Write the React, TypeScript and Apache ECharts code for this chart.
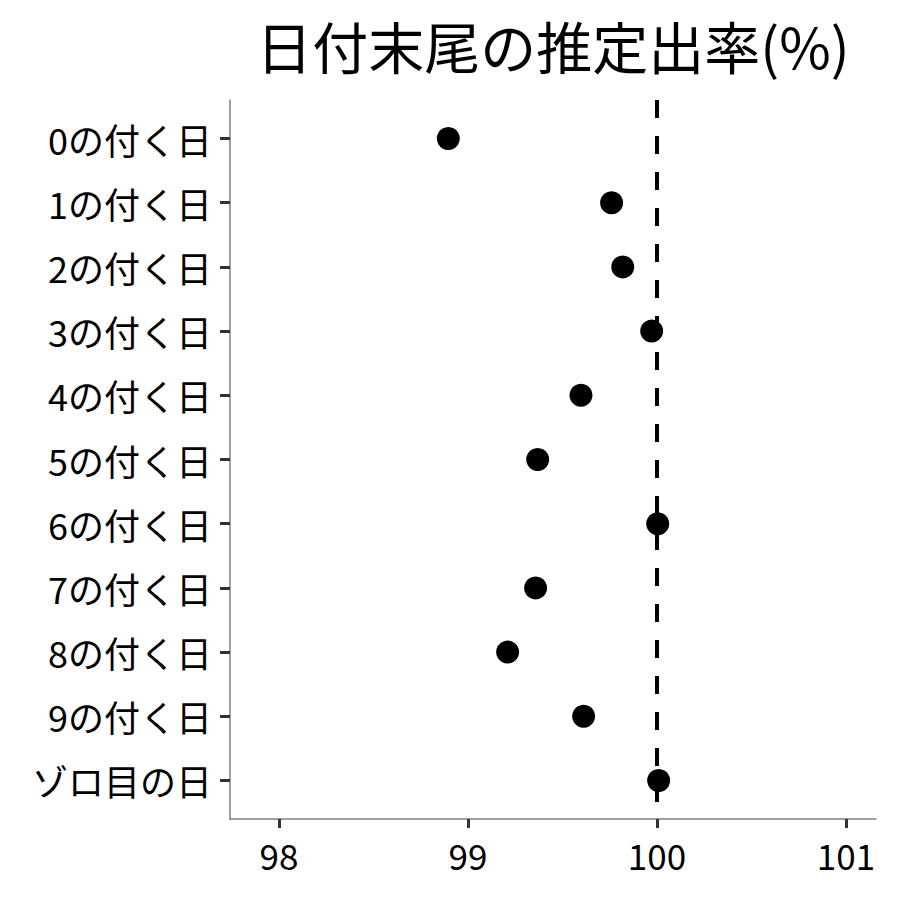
import React, { useEffect, useRef } from "react";
import * as echarts from "echarts";

const categories = [
  "0の付く日",
  "1の付く日",
  "2の付く日",
  "3の付く日",
  "4の付く日",
  "5の付く日",
  "6の付く日",
  "7の付く日",
  "8の付く日",
  "9の付く日",
  "ゾロ目の日",
];
const rates = [98.896, 99.76, 99.819, 99.972, 99.598, 99.369, 100.004, 99.358, 99.21, 99.612, 100.009];
const xTicks = [98, 99, 100, 101];
const referenceValue = 100;
const titleText = "日付末尾の推定出率(%)";

const FONT = "'Noto Sans CJK JP', 'Noto Sans', sans-serif";

export default function App() {
  const ref = useRef<HTMLDivElement>(null);
  useEffect(() => {
    if (!ref.current) return;
    const chart = echarts.init(ref.current, null, { renderer: "svg" });
    const yIdx = categories.map((_, i) => i);
    chart.setOption({
      animation: false,
      backgroundColor: "#ffffff",
      textStyle: { fontFamily: FONT },
      grid: { left: 230, right: 24, top: 100, bottom: 81, containLabel: false },
      graphic: [
        {
          type: "text",
          x: 553,
          y: 44,
          style: {
            text: titleText,
            fontSize: 56,
            fontFamily: FONT,
            fill: "#000000",
            textAlign: "center",
            textVerticalAlign: "middle",
          },
        },
      ],
      xAxis: {
        type: "value",
        min: 97.741,
        max: 101.159,
        splitLine: { show: false },
        axisLine: { show: true, onZero: false, lineStyle: { color: "#7f7f7f", width: 1.5 } },
        axisTick: { show: true, customValues: xTicks, length: 9, lineStyle: { color: "#333333", width: 3 } },
        axisLabel: {
          customValues: xTicks,
          fontSize: 35,
          color: "#000000",
          margin: 18,
          fontFamily: FONT,
        },
      },
      yAxis: {
        type: "value",
        inverse: true,
        min: -0.6,
        max: 10.6,
        splitLine: { show: false },
        axisLine: { show: true, onZero: false, lineStyle: { color: "#7f7f7f", width: 1.5 } },
        axisTick: { show: true, customValues: yIdx, length: 10, lineStyle: { color: "#333333", width: 3 } },
        axisLabel: {
          customValues: yIdx,
          fontSize: 36,
          color: "#000000",
          margin: 18,
          fontFamily: FONT,
          formatter: (v: number) => categories[Math.round(v)] ?? "",
        },
      },
      series: [
        {
          type: "scatter",
          data: rates.map((r, i) => [r, i]),
          symbol: "circle",
          symbolSize: 23,
          itemStyle: { color: "#000000", opacity: 1 },
          z: 3,
          markLine: {
            silent: true,
            symbol: ["none", "none"],
            label: { show: false },
            lineStyle: { color: "#000000", width: 4, type: [18, 18] },
            data: [{ xAxis: referenceValue }],
            z: 2,
          },
        },
      ],
    });
    return () => chart.dispose();
  }, []);
  return (
    <div
      ref={ref}
      style={{ position: "fixed", left: 0, top: 0, width: 900, height: 900, background: "#fff" }}
    />
  );
}
